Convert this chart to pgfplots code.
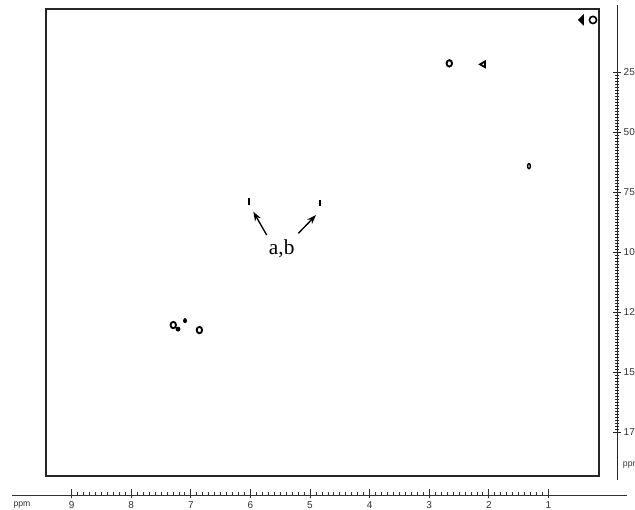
\documentclass[border=0pt]{standalone}
\usepackage{fontspec}
\setmainfont{Liberation Serif}
\setsansfont{Liberation Sans}
\usepackage{pgfplots}
\pgfplotsset{compat=1.18}
\usetikzlibrary{arrows.meta}

\begin{document}
\begin{tikzpicture}
% ---------- main 2D spectrum box ----------
\begin{axis}[
  at={(34.5pt,-357pt)}, anchor=south west,
  scale only axis, width=414.75pt, height=350.25pt,
  xmin=0.151, xmax=9.430, x dir=reverse,
  ymin=-1.25, ymax=193.3, y dir=reverse,
  xtick=\empty, ytick=\empty,
  axis line style={line width=1.1pt, black!85},
  clip=false,
]
% ring-like cross peaks
\addplot[only marks, mark=o, mark size=2.4pt, line width=1.4pt, mark options={xscale=0.85}]
  coordinates {(2.663,21.4) (7.294,130.4) (6.856,132.5)};
\addplot[only marks, mark=o, mark size=2.7pt, line width=1.2pt]
  coordinates {(0.252,3.3)};
\addplot[only marks, mark=triangle*, mark size=2.6pt, mark options={rotate=90, xscale=1.7}]
  coordinates {(0.440,3.3)};
\addplot[only marks, mark=triangle, mark size=2.5pt, line width=1.3pt, mark options={rotate=90}]
  coordinates {(2.092,21.8)};
\addplot[only marks, mark=o, mark size=1.9pt, line width=1.1pt, mark options={xscale=0.55}]
  coordinates {(1.326,64.2)};
\addplot[only marks, mark=|, mark size=2.4pt, line width=1.6pt]
  coordinates {(6.023,79.0) (4.832,79.5)};
\addplot[only marks, mark=*, mark size=1.6pt]
  coordinates {(7.215,132.1)};
\addplot[only marks, mark=*, mark size=1.2pt, mark options={yscale=1.4}]
  coordinates {(7.097,128.6)};
% annotation
\draw[-{Stealth[length=7pt,width=5pt]}, line width=1pt] (axis cs:5.727,92.9) -- (axis cs:5.951,83.2);
\draw[-{Stealth[length=7pt,width=5pt]}, line width=1pt] (axis cs:5.196,92.2) -- (axis cs:4.899,84.6);
\node[font=\fontsize{16}{18}\selectfont, inner sep=0pt] at (axis cs:5.475,98.6) {a,b};
\end{axis}

% ---------- bottom 1H ppm ruler ----------
\begin{axis}[
  at={(9pt,-371.25pt)}, anchor=south west,
  scale only axis, width=461.25pt, height=1pt,
  xmin=-0.319, xmax=10.0, x dir=reverse, ymin=0, ymax=1,
  hide y axis, axis x line*=bottom,
  x axis line style={-, line width=0.6pt, black!80},
  xtick={1,...,9}, minor x tick num=9,
  tick align=inside, major tick length=4.5pt, minor tick length=2.2pt,
  tick style={line width=0.5pt, black!80},
  extra x ticks={1,...,9}, extra x tick labels={},
  extra x tick style={tick align=outside, major tick length=2.5pt},
  /pgf/number format/assume math mode=true,
  xticklabel style={font=\fontsize{7.5}{8}\sffamily, text=black!80, yshift=-1.5pt},
]
\addplot[draw=none] coordinates {(5,0.5)};
\end{axis}
\node[font=\fontsize{6.5}{7}\sffamily, text=black!80, anchor=west, inner sep=0pt] at (10pt,-379pt) {ppm};

% ---------- right 13C ppm ruler ----------
\begin{axis}[
  at={(462.75pt,-360pt)}, anchor=south west,
  scale only axis, width=1pt, height=356.25pt,
  ymin=-2.92, ymax=195, y dir=reverse, xmin=0, xmax=1,
  hide x axis, axis y line*=left,
  y axis line style={-, line width=0.7pt, black!85},
  ytick={25,50,75,100,125,150,175}, minor y tick num=19,
  tick align=center, major tick length=6pt, minor tick length=3.2pt,
  tick style={line width=0.5pt, black!85},
  yticklabel pos=right,
  /pgf/number format/assume math mode=true,
  yticklabel style={font=\fontsize{7.5}{8}\sffamily, text=black!80, anchor=west, xshift=4.5pt},
]
\addplot[draw=none] coordinates {(0.5,100)};
\end{axis}
\node[font=\fontsize{6.5}{7}\sffamily, text=black!80, anchor=west, inner sep=0pt] at (467pt,-349pt) {ppm};

\pgfresetboundingbox
\path[use as bounding box] (0pt,0pt) rectangle (476.25pt,-382.5pt);
\end{tikzpicture}
\end{document}
